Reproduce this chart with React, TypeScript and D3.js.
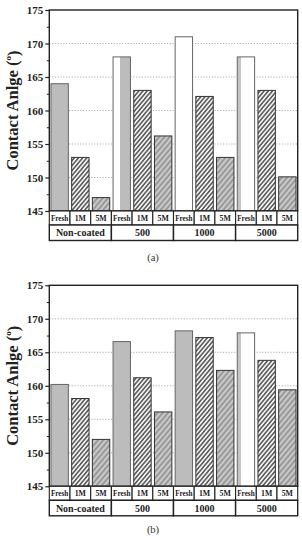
import React, { useEffect, useRef } from "react";
import * as d3 from "d3";

// coating groups and exposure times along the x axis
const groups = ["Non-coated", "500", "1000", "5000"];
const times = ["Fresh", "1M", "5M"];

// contact angle (deg) per group, in the order of `times`
const anglesA = [
  [164, 153, 147],
  [168, 163, 156.2],
  [171, 162.1, 153],
  [168, 163, 150.1],
];
const anglesB = [
  [160.2, 158.1, 152],
  [166.6, 161.2, 156.1],
  [168.2, 167.2, 162.3],
  [167.9, 163.8, 159.4],
];

const yTicks = [145, 150, 155, 160, 165, 170, 175];
const yMinorTicks = [147.5, 152.5, 157.5, 162.5, 167.5, 172.5];
const gridTicks = [150, 155, 160, 165, 170];

// how the "Fresh" bar of each group is filled
const freshStyleA = ["gray", "split", "white", "edge"];
const freshStyleB = ["gray", "gray", "gray", "edge"];

const W = 302;
const H = 536;
const left = 49.3;
const right = 297.7;
const plotH = 201;
const row1H = 14;
const row2H = 15.5;
const serif = "'Liberation Serif', 'Times New Roman', serif";

function drawPanel(svg, top, data, freshStyle, caption) {
  const g = svg.append("g");
  const bottom = top + plotH;

  const y = d3.scaleLinear().domain([145, 175]).range([bottom, top]);
  const keys = groups.flatMap((gr) => times.map((t) => `${gr}|${t}`));
  const x = d3.scaleBand().domain(keys).range([left, right]).paddingInner(0.16).paddingOuter(0.08);
  const slot = (right - left) / keys.length;

  // dotted gridlines
  g.selectAll("line.grid")
    .data(gridTicks)
    .enter()
    .append("line")
    .attr("x1", left)
    .attr("x2", right)
    .attr("y1", (d) => y(d))
    .attr("y2", (d) => y(d))
    .attr("stroke", "#9a9a9a")
    .attr("stroke-width", 0.8)
    .attr("stroke-dasharray", "1.2,1.6");

  const rows = groups.flatMap((gr, gi) =>
    times.map((t, ti) => ({ key: `${gr}|${t}`, gi, ti, v: data[gi][ti] }))
  );

  const fillFor = (d) => {
    if (d.ti === 1) return "url(#hatch1M)";
    if (d.ti === 2) return "url(#hatch5M)";
    const s = freshStyle[d.gi];
    if (s === "gray") return "#bcbcbc";
    if (s === "white") return "#ffffff";
    if (s === "split") return "url(#freshSplit)";
    return "url(#freshEdge)";
  };

  g.selectAll("rect.bar")
    .data(rows)
    .enter()
    .append("rect")
    .attr("x", (d) => x(d.key))
    .attr("width", x.bandwidth())
    .attr("y", (d) => y(d.v))
    .attr("height", (d) => bottom - y(d.v))
    .attr("fill", fillFor)
    .attr("stroke", (d) => (d.ti === 0 ? "#666" : "#333"))
    .attr("stroke-width", 1);

  // frame
  g.append("rect")
    .attr("x", left)
    .attr("y", top)
    .attr("width", right - left)
    .attr("height", plotH)
    .attr("fill", "none")
    .attr("stroke", "#222")
    .attr("stroke-width", 1.4);

  // y axis, major and minor ticks
  const axis = g
    .append("g")
    .attr("transform", `translate(${left},0)`)
    .call(d3.axisLeft(y).tickValues(yTicks).tickSize(4).tickPadding(2));
  axis.select(".domain").remove();
  axis.selectAll("line").attr("stroke", "#222").attr("stroke-width", 1.2);
  axis
    .selectAll("text")
    .attr("font-family", serif)
    .attr("font-weight", "bold")
    .attr("font-size", 11)
    .attr("fill", "#222");

  const minor = g
    .append("g")
    .attr("transform", `translate(${left},0)`)
    .call(d3.axisLeft(y).tickValues(yMinorTicks).tickSize(2.5).tickFormat(() => ""));
  minor.select(".domain").remove();
  minor.selectAll("line").attr("stroke", "#222").attr("stroke-width", 1);

  // axis title
  const title = g
    .append("text")
    .attr("transform", `translate(18,${top + plotH / 2}) rotate(-90)`)
    .attr("text-anchor", "middle")
    .attr("font-family", serif)
    .attr("font-weight", "bold")
    .attr("font-size", 16.5)
    .attr("fill", "#222");
  title.append("tspan").text("Contact Anlge (");
  title.append("tspan").attr("font-size", 9).attr("dy", "-0.75em").text("o");
  title.append("tspan").attr("dy", "0.45em").text(")");

  // category table under the plot
  const table = g.append("g");
  rows.forEach((d, i) => {
    const cx = left + i * slot;
    table
      .append("rect")
      .attr("x", cx)
      .attr("y", bottom)
      .attr("width", slot)
      .attr("height", row1H)
      .attr("fill", "#fff")
      .attr("stroke", "#222")
      .attr("stroke-width", 1.1);
    table
      .append("text")
      .attr("x", cx + slot / 2)
      .attr("y", bottom + row1H / 2)
      .attr("dy", "0.35em")
      .attr("text-anchor", "middle")
      .attr("font-family", serif)
      .attr("font-weight", "bold")
      .attr("font-size", d.ti === 0 ? 7.2 : 7.8)
      .attr("fill", "#222")
      .text(times[d.ti]);
  });
  groups.forEach((gr, gi) => {
    const gx = left + gi * times.length * slot;
    const gw = times.length * slot;
    table
      .append("rect")
      .attr("x", gx)
      .attr("y", bottom + row1H)
      .attr("width", gw)
      .attr("height", row2H)
      .attr("fill", "#fff")
      .attr("stroke", "#222")
      .attr("stroke-width", 1.4);
    table
      .append("text")
      .attr("x", gx + gw / 2)
      .attr("y", bottom + row1H + row2H / 2)
      .attr("dy", "0.35em")
      .attr("text-anchor", "middle")
      .attr("font-family", serif)
      .attr("font-weight", "bold")
      .attr("font-size", 10)
      .attr("fill", "#222")
      .text(gr);
  });

  // panel caption, kept inside the page at the bottom
  g.append("text")
    .attr("x", 153)
    .attr("y", Math.min(top + 251, H - 3))
    .attr("text-anchor", "middle")
    .attr("font-family", serif)
    .attr("font-size", 10.5)
    .attr("fill", "#333")
    .text(caption);
}

export default function App() {
  const svgRef = useRef(null);

  useEffect(() => {
    const svg = d3.select(svgRef.current);
    svg.selectAll("*").remove();

    const defs = svg.append("defs");

    const hatch = (id, size, bg, stroke, sw) => {
      const p = defs
        .append("pattern")
        .attr("id", id)
        .attr("patternUnits", "userSpaceOnUse")
        .attr("width", size)
        .attr("height", size)
        .attr("patternTransform", "rotate(40)");
      p.append("rect").attr("width", size).attr("height", size).attr("fill", bg);
      p.append("line")
        .attr("x1", size / 2)
        .attr("x2", size / 2)
        .attr("y1", 0)
        .attr("y2", size)
        .attr("stroke", stroke)
        .attr("stroke-width", sw);
    };
    hatch("hatch1M", 3.2, "#f2f2f2", "#4a4a4a", 1.4);
    hatch("hatch5M", 4, "#c9c9c9", "#6a6a6a", 1);

    const split = (id, stops) => {
      const lg = defs.append("linearGradient").attr("id", id).attr("x1", 0).attr("x2", 1).attr("y1", 0).attr("y2", 0);
      stops.forEach(([o, c]) => lg.append("stop").attr("offset", o).attr("stop-color", c));
    };
    split("freshSplit", [[0, "#fff"], [0.4, "#fff"], [0.4, "#bcbcbc"], [1, "#bcbcbc"]]);
    split("freshEdge", [[0, "#c4c4c4"], [0.2, "#c4c4c4"], [0.2, "#fff"], [1, "#fff"]]);

    drawPanel(svg, 10, anglesA, freshStyleA, "(a)");
    drawPanel(svg, 285.3, anglesB, freshStyleB, "(b)");
  }, []);

  return (
    <div style={{ position: "fixed", left: 0, top: 0 }}>
      <svg ref={svgRef} width={W} height={H} style={{ display: "block", background: "#fff" }} />
    </div>
  );
}
